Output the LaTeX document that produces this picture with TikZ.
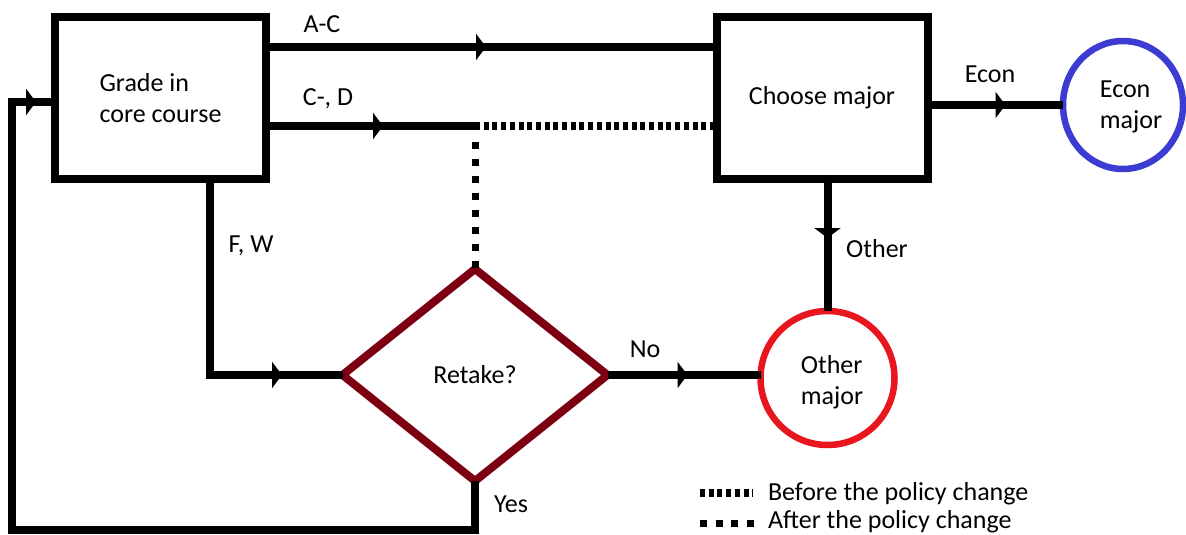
\documentclass[tikz,border=0pt]{standalone}
\usepackage{fontspec}
\setmainfont{Carlito}
\usetikzlibrary{arrows.meta,decorations.markings,shapes.geometric}
\definecolor{dred}{RGB}{125,0,18}
\definecolor{cblue}{RGB}{60,60,210}
\definecolor{cred}{RGB}{232,22,30}
\begin{document}
\begin{tikzpicture}[x=1pt,y=-1pt,
  every node/.style={font=\fontsize{26}{31}\selectfont,inner sep=0pt,outer sep=0pt},
  flow/.style={line width=8pt},
  boxnode/.style={draw,line width=8pt,minimum width=211pt,minimum height=162pt,align=left},
  decision/.style={shape=diamond,draw=dred,line width=8pt,minimum width=265pt,minimum height=212pt},
  majornode/.style={shape=ellipse,line width=6.5pt},
  lbl/.style={anchor=base},
  beforeline/.style={line width=8pt,dash pattern=on 5pt off 3.7pt},
  afterline/.style={line width=7pt,dash pattern=on 7pt off 10pt},
  midarr/.style={postaction={decorate},decoration={markings,mark=at position #1 with {\arrow{Triangle[length=10pt,width=26pt]}}}}
]
\useasboundingbox (0,0) rectangle (1186,535);

% nodes
\node[boxnode] (grade) at (160.5,98) {Grade in\\core course};
\node[boxnode] (choose) at (822,98) {Choose major};
\node[decision] (ret) at (475,375) {Retake?};
\node[majornode,draw=cred,minimum width=134pt,minimum height=134pt] (other) at (827.5,378) {};
\node[align=left] (othert) at (832,382) {Other\\major};
\node[majornode,draw=cblue,minimum width=120pt,minimum height=128pt] (econ) at (1123,105) {};
\node[align=left] (econt) at (1131,107) {Econ\\major};

% helper coordinates
\coordinate (acy) at (0,47);
\coordinate (cdy) at (0,126);
\coordinate (split) at (475,126);
\coordinate (fw) at (210,0);
\coordinate (loop) at (12,530);
\coordinate (yl) at (0,102);

% connectors
\draw[flow,midarr=220pt] (grade.east |- acy) -- (choose.west |- acy);
\draw[flow,midarr=117pt] (grade.east |- cdy) -- ([xshift=5pt]split);
\draw[beforeline,dash phase=5pt] ([xshift=5pt]split) -- (choose.west |- cdy);
\draw[afterline] ([yshift=-16pt]split) -- (ret.north);
\draw[flow,midarr=268pt] (grade.south -| fw) |- (ret.west);
\draw[flow,midarr=80pt] (ret.east) -- (ret.east -| other.west);
\draw[flow,midarr=59pt] (choose.south -| other.north) -- (other.north);
\draw[flow,midarr=78pt] (choose.east |- econ.west) -- (econ.west);
\draw[flow,midarr=-19pt] (ret.south) |- (loop) |- (grade.west |- yl);

% labels
\node[lbl] (lac) at (322,33) {A-C};
\node[lbl] (lcd) at (328,105) {C-, D};
\node[lbl] (lfw) at (251,252) {F, W};
\node[lbl] (lno) at (645,357) {No};
\node[lbl] (lot) at (877,257) {Other};
\node[lbl] (lec) at (990,82) {Econ};
\node[lbl] (lyes) at (511,512) {Yes};

% legend
\draw[beforeline] (700,493) -- (753,493);
\draw[afterline,dash pattern=on 7pt off 8.7pt] (700,523) -- (755,523);
\node[anchor=base west] (lgb) at (768,500) {Before the policy change};
\node[anchor=base west] (lga) at (768,528.5) {After the policy change};
\end{tikzpicture}
\end{document}
